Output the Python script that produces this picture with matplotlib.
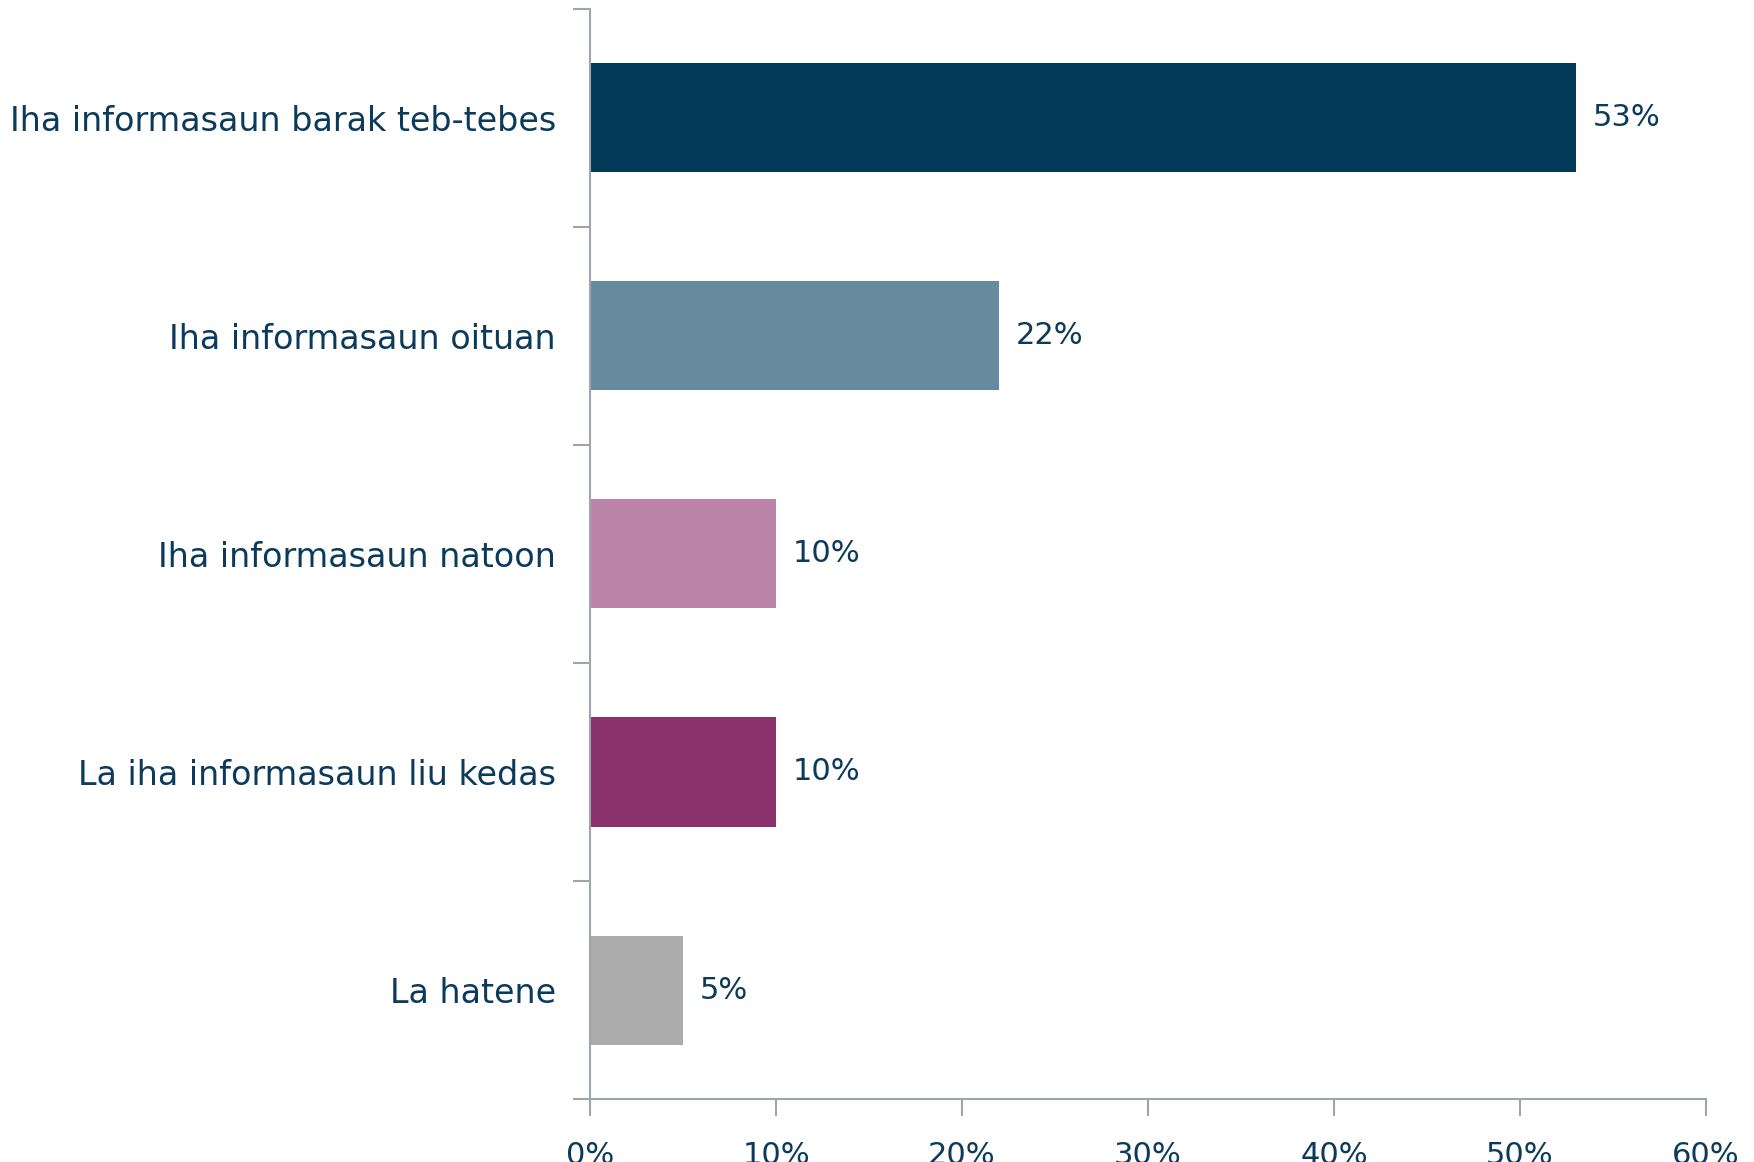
import matplotlib.pyplot as plt
from matplotlib.ticker import FuncFormatter

categories = [
    "Iha informasaun barak teb-tebes",
    "Iha informasaun oituan",
    "Iha informasaun natoon",
    "La iha informasaun liu kedas",
    "La hatene",
]
values = [53, 22, 10, 10, 5]
colors = ["#033a5a", "#668a9e", "#bc84a8", "#8b316b", "#acacac"]

text_col = "#0b3a5a"
axis_col = "#a0a4ac"

plt.rcParams['font.family'] = ['DejaVu Sans']

fig = plt.figure(figsize=(17.54, 11.62), dpi=100)
ax = fig.add_axes([0.3364, 0.0542, 0.9726 - 0.3364, 0.9923 - 0.0542])

ypos = list(range(len(categories)))
ax.barh(ypos, values, height=0.5, color=colors)

for y, v in zip(ypos, values):
    ax.text(v + 0.9, y, f"{v}%", va='center', ha='left', fontsize=22, color=text_col)

ax.set_xlim(0, 60)
ax.set_ylim(len(categories) - 0.5, -0.5)
ax.set_xticks(range(0, 61, 10))
ax.xaxis.set_major_formatter(FuncFormatter(lambda x, p: f"{int(x)}%"))

# category boundaries as ticks, labels in the middle
ax.set_yticks([i - 0.5 for i in range(len(categories) + 1)])
ax.set_yticklabels([])
ax.set_yticks(ypos, minor=True)
ax.set_yticklabels(categories, minor=True)
ax.tick_params(axis='y', which='minor', length=0, pad=24.5, labelsize=24, labelcolor=text_col)
ax.tick_params(axis='y', which='major', length=12, width=1.5, color=axis_col)
ax.tick_params(axis='x', length=12, width=1.5, color=axis_col, pad=18,
               labelsize=22, labelcolor=text_col)

for s in ['top', 'right']:
    ax.spines[s].set_visible(False)
for s in ['left', 'bottom']:
    ax.spines[s].set_color(axis_col)
    ax.spines[s].set_linewidth(1.5)

fig.savefig("out.png", dpi=100)
